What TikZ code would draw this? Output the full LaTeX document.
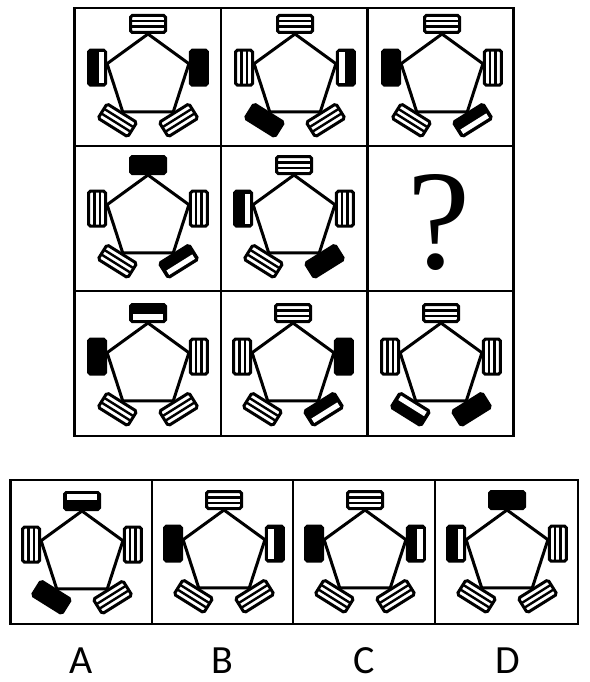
\documentclass[tikz,border=0pt]{standalone}
\usepackage{fontspec}
\newfontfamily\lblfont{Carlito}
\newfontfamily\qfont{Liberation Serif}
\tikzset{
  pentline/.style={line width=3pt, line join=miter},
  rbox/.style={line width=3pt, rounded corners=1.8pt},
  gridline/.style={line width=2.4pt},
  lbl/.style={font=\lblfont\fontsize{40}{42}\selectfont, anchor=base, inner sep=0pt},
}
% rectangle kinds, local frame: long axis along x, inner edge at y=0, outer edge at y=-20
\newcommand\rkS{\filldraw[rbox,fill=white] (-17.5,-18.5) rectangle (17.5,-1.5);
  \fill (-17.5,-8.5) rectangle (17.5,-6.1);
  \fill (-17.5,-13.9) rectangle (17.5,-11.5);}
\newcommand\rkB{\filldraw[rbox,fill=black] (-17.5,-18.5) rectangle (17.5,-1.5);}
\newcommand\rkHi{\rkB\fill[white] (-15.2,-8.6) rectangle (15.2,-3.4);}
\newcommand\rkHo{\rkB\fill[white] (-15.2,-16.6) rectangle (15.2,-11.4);}
\newcommand\rbx[3]{\begin{scope}[shift={(#1)},rotate=#2]\csname rk#3\endcsname\end{scope}}
\newcommand\pent[7]{%
  \begin{scope}[shift={(#1,#2)}]
    \draw[pentline] (0,-43) -- (40.9,-13.3) -- (25.3,34.8) -- (-25.3,34.8) -- (-40.9,-13.3) -- cycle;
    \rbx{0,-43}{0}{#3}
    \rbx{-40.9,-9.3}{90}{#4}
    \rbx{40.9,-9.3}{-90}{#5}
    \rbx{-25.3,34.8}{148}{#6}
    \rbx{25.3,34.8}{-148}{#7}
  \end{scope}}
\begin{document}
\begin{tikzpicture}[x=1pt,y=-1pt]
\useasboundingbox (0,0) rectangle (589,682);
\fill[white] (0,0) rectangle (589,682);
% main grid
\draw[gridline] (74.5,8) rectangle (513.5,436);
\draw[gridline] (221,8) -- (221,436);
\draw[gridline] (367.5,8) -- (367.5,436);
\draw[gridline] (74.5,146) -- (513.5,146);
\draw[gridline] (74.5,291) -- (513.5,291);
% options box
\draw[gridline] (10.5,480) rectangle (578,624);
\draw[gridline] (152,480) -- (152,624);
\draw[gridline] (293,480) -- (293,624);
\draw[gridline] (435,480) -- (435,624);
% row 1
\pent{148}{77}{S}{Hi}{B}{S}{S}
\pent{295}{77}{S}{S}{Hi}{B}{S}
\pent{442}{77}{S}{B}{S}{S}{Ho}
% row 2
\pent{148}{218}{B}{S}{S}{S}{Ho}
\pent{294}{218}{S}{Hi}{S}{S}{B}
\node[anchor=base, inner sep=0pt, font=\qfont\fontsize{142}{142}\selectfont] (q) at (439,268) {?};
% row 3
\pent{148}{366}{Hi}{B}{S}{S}{S}
\pent{293}{366}{S}{S}{B}{S}{Ho}
\pent{441}{366}{S}{S}{S}{Hi}{B}
% options
\pent{82}{554}{Ho}{S}{S}{B}{S}
\pent{224}{553}{S}{B}{Hi}{S}{S}
\pent{365}{553}{S}{B}{Ho}{S}{S}
\pent{507}{553}{B}{Hi}{S}{S}{S}
\node[lbl] (la) at (81,673) {A};
\node[lbl] (lb) at (222,673) {B};
\node[lbl] (lc) at (364,673) {C};
\node[lbl] (ld) at (508,673) {D};
\end{tikzpicture}
\end{document}
